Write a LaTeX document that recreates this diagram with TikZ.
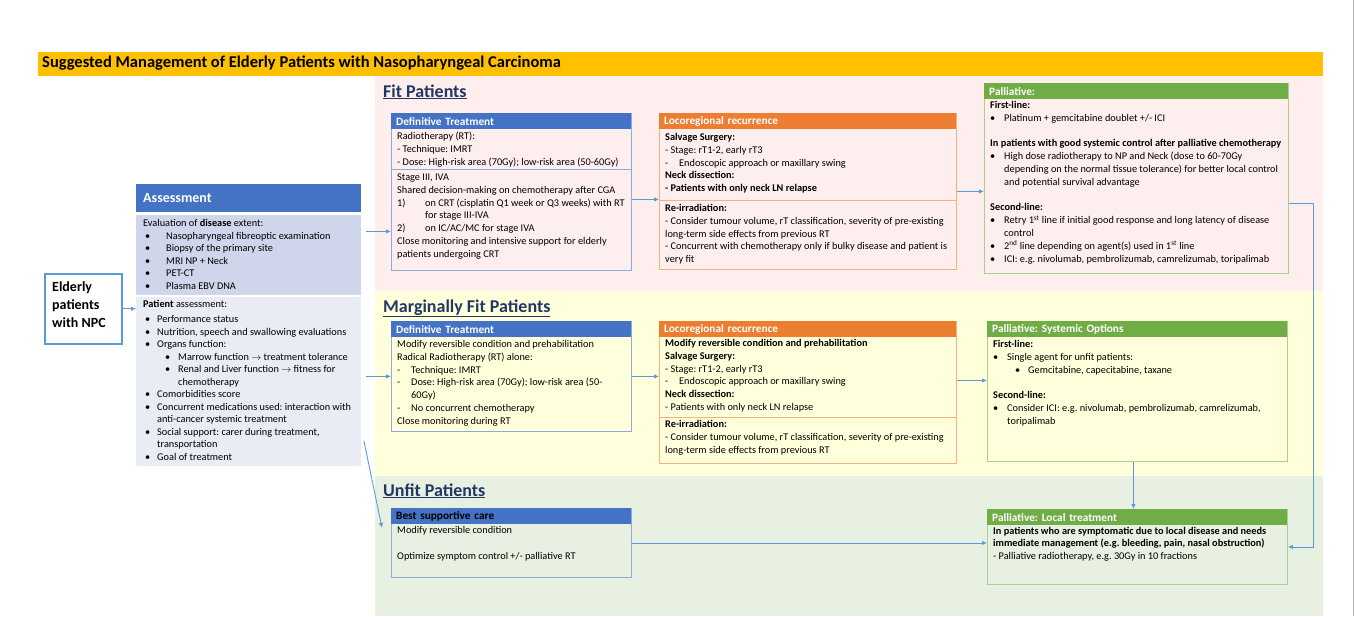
\documentclass[tikz,border=0pt]{standalone}
\usepackage{fontspec}
\setmainfont{Carlito}
\usetikzlibrary{positioning,arrows.meta,calc}
\frenchspacing

\definecolor{barorange}{HTML}{FFC000}
\definecolor{bandpink}{HTML}{FFEEEE}
\definecolor{bandyellow}{HTML}{FFFFDB}
\definecolor{bandgreen}{HTML}{E8F0E1}
\definecolor{hdblue}{HTML}{4472C4}
\definecolor{lnblue}{HTML}{8FAADC}
\definecolor{hdorange}{HTML}{ED7D31}
\definecolor{lnorange}{HTML}{F4B183}
\definecolor{hdgreen}{HTML}{70AD47}
\definecolor{lngreen}{HTML}{A9D18E}
\definecolor{evalfill}{HTML}{CFD5EA}
\definecolor{ptfill}{HTML}{E9EBF5}
\definecolor{arrowblue}{HTML}{5B9BD5}
\definecolor{navy}{HTML}{203864}

\newcommand{\bodyfont}{\fontsize{10.3}{12.8}\selectfont}
\newcommand{\assessfont}{\fontsize{10.3}{12.5}\selectfont}
\newcommand{\headfont}{\fontsize{11.3}{13}\selectfont\bfseries}
\newcommand{\sectfont}{\fontsize{18}{21}\selectfont\bfseries}
\newcommand{\titlefont}{\fontsize{16.5}{19}\selectfont\bfseries}
\newcommand{\lines}[1]{\begin{minipage}[t]{330pt}\raggedright#1\end{minipage}}
\newcommand{\mk}[3]{\hspace*{#1}\makebox[#2][l]{#3}}

\begin{document}
\begin{tikzpicture}[x=1pt, y=-1pt,
  frame/.style={draw, rectangle, anchor=north west, inner sep=0, line width=0.9pt},
  head/.style={anchor=north west, inner xsep=5pt, inner ysep=0, minimum height=16pt, align=left, font=\headfont, text=white},
  txt/.style={anchor=base west, inner sep=0, font=\bodyfont},
  sect/.style={anchor=base west, inner sep=0, font=\sectfont, text=navy},
  link/.style={draw=arrowblue, line width=0.9pt, -{Latex[length=5pt,width=4.5pt]}}]
\useasboundingbox (0,0) rectangle (1356,616);
\fill[white] (0,0) rectangle (1356,616);
\draw[gray!60] (1353,0) -- (1353,616);

% title bar and bands
\fill[barorange] (38,52) rectangle (1323,76);
\node[anchor=base west, inner sep=0, font=\titlefont] (title) at (42,67.5) {Suggested Management of Elderly Patients with Nasopharyngeal Carcinoma};
\fill[bandpink] (375,76) rectangle (1323,291);
\fill[bandyellow] (375,291) rectangle (1323,476);
\fill[bandgreen] (375,476) rectangle (1323,616);

\node[sect] (fittitle) at (383,97) {\underline{Fit Patients}};
\node[sect] (margtitle) at (383,312) {\underline{Marginally Fit Patients}};
\node[sect] (unfittitle) at (383,496) {\underline{Unfit Patients}};

% elderly patients
\node[frame, draw=arrowblue, line width=1.5pt, fill=white, minimum width=77pt, minimum height=70pt] (elderly) at (44,273) {};
\node[txt, font=\fontsize{14}{18}\selectfont\bfseries] (elderlytxt) at (52,291.5) {\lines{Elderly\\ patients\\ with NPC}};

% assessment
\node[head, fill=hdblue, text width=211pt, minimum height=28pt, inner xsep=7pt, font=\fontsize{14}{16}\selectfont\bfseries] (assesshd) at (136,184) {Assessment};
\node[frame, draw=none, fill=evalfill, minimum width=225pt, minimum height=80pt] (evalbox) at (136,215) {};
\node[frame, draw=none, fill=ptfill, minimum width=225pt, minimum height=169pt] (ptbox) at (136,297) {};
\node[txt, font=\assessfont] (evaltxt) at (143,226.5) {\lines{Evaluation of \textbf{disease} extent:\\
 \mk{2pt}{21pt}{\textbullet}Nasopharyngeal fibreoptic examination\\
 \mk{2pt}{21pt}{\textbullet}Biopsy of the primary site\\
 \mk{2pt}{21pt}{\textbullet}MRI NP + Neck\\
 \mk{2pt}{21pt}{\textbullet}PET-CT\\
 \mk{2pt}{21pt}{\textbullet}Plasma EBV DNA}};
\node[txt, font=\assessfont] (pttxt) at (143,307.5) {\lines{\textbf{Patient} assessment:\\[2.5pt]
 \mk{2pt}{12pt}{\textbullet}Performance status\\
 \mk{2pt}{12pt}{\textbullet}Nutrition, speech and swallowing evaluations\\
 \mk{2pt}{12pt}{\textbullet}Organs function:\\
 \mk{22pt}{13pt}{\textbullet}Marrow function $\rightarrow$ treatment tolerance\\
 \mk{22pt}{13pt}{\textbullet}Renal and Liver function $\rightarrow$ fitness for\\
 \hspace*{35pt}chemotherapy\\
 \mk{2pt}{12pt}{\textbullet}Comorbidities score\\
 \mk{2pt}{12pt}{\textbullet}Concurrent medications used: interaction with\\
 \hspace*{14pt}anti-cancer systemic treatment\\
 \mk{2pt}{12pt}{\textbullet}Social support: carer during treatment,\\
 \hspace*{14pt}transportation\\
 \mk{2pt}{12pt}{\textbullet}Goal of treatment}};

% fit patients
\node[frame, draw=lnblue, minimum width=240pt, minimum height=157pt] (fitdef) at (391,113) {};
\node[head, fill=hdblue, text width=230pt] (fitdefhd) at (fitdef.north west) {Definitive Treatment};
\draw[lnblue, line width=0.9pt] (391,169) -- (631,169);
\node[txt] (fitdeftxt) at (397,139.5) {\lines{Radiotherapy (RT):\\
 - Technique: IMRT\\
 - Dose: High-risk area (70Gy); low-risk area (50-60Gy)}};
\node[txt] (fitdeftxtb) at (397,180.5) {\lines{Stage III, IVA\\
 Shared decision-making on chemotherapy after CGA\\
 \mk{0pt}{28pt}{1)}on CRT (cisplatin Q1 week or Q3 weeks) with RT\\
 \hspace*{28pt}for stage III-IVA\\
 \mk{0pt}{28pt}{2)}on IC/AC/MC for stage IVA\\
 Close monitoring and intensive support for elderly\\
 patients undergoing CRT}};

\node[frame, draw=lnorange, minimum width=297pt, minimum height=156pt] (fitrec) at (659,113) {};
\node[head, fill=hdorange, text width=287pt] (fitrechd) at (fitrec.north west) {Locoregional recurrence};
\draw[lnorange, line width=0.9pt] (659,200) -- (956,200);
\node[txt] (fitrectxt) at (665,140.5) {\lines{\textbf{Salvage Surgery:}\\
 - Stage: rT1-2, early rT3\\
 \mk{0pt}{14pt}{-}Endoscopic approach or maxillary swing\\
 \textbf{Neck dissection:}\\
 \textbf{- Patients with only neck LN relapse}}};
\node[txt] (fitrectxtb) at (665,211.5) {\lines{\textbf{Re-irradiation:}\\
 - Consider tumour volume, rT classification, severity of pre-existing\\
 long-term side effects from previous RT\\
 - Concurrent with chemotherapy only if bulky disease and patient is\\
 very fit}};

\node[frame, draw=lngreen, minimum width=304pt, minimum height=190pt] (fitpal) at (984,83) {};
\node[head, fill=hdgreen, text width=294pt] (fitpalhd) at (fitpal.north west) {Palliative:};
\node[txt] (fitpaltxt) at (990,108.5) {\lines{\textbf{First-line:}\\
 \mk{0pt}{14pt}{\textbullet}Platinum + gemcitabine doublet +/- ICI\\[12.8pt]
 \textbf{In patients with good systemic control after palliative chemotherapy}\\
 \mk{0pt}{14pt}{\textbullet}High dose radiotherapy to NP and Neck (dose to 60-70Gy\\
 \hspace*{14pt}depending on the normal tissue tolerance) for better local control\\
 \hspace*{14pt}and potential survival advantage\\[12.8pt]
 \textbf{Second-line:}\\
 \mk{0pt}{14pt}{\textbullet}Retry 1\textsuperscript{st} line if initial good response and long latency of disease\\
 \hspace*{14pt}control\\
 \mk{0pt}{14pt}{\textbullet}2\textsuperscript{nd} line depending on agent(s) used in 1\textsuperscript{st} line\\
 \mk{0pt}{14pt}{\textbullet}ICI: e.g. nivolumab, pembrolizumab, camrelizumab, toripalimab}};

% marginally fit patients
\node[frame, draw=lnblue, minimum width=240pt, minimum height=110pt] (margdef) at (391,321) {};
\node[head, fill=hdblue, text width=230pt] (margdefhd) at (margdef.north west) {Definitive Treatment};
\node[txt] (margdeftxt) at (397,347.5) {\lines{Modify reversible condition and prehabilitation\\
 Radical Radiotherapy (RT) alone:\\
 \mk{0pt}{14pt}{-}Technique: IMRT\\
 \mk{0pt}{14pt}{-}Dose: High-risk area (70Gy); low-risk area (50-\\
 \hspace*{14pt}60Gy)\\
 \mk{0pt}{14pt}{-}No concurrent chemotherapy\\
 Close monitoring during RT}};

\node[frame, draw=lnorange, minimum width=297pt, minimum height=142pt] (margrec) at (659,321) {};
\node[head, fill=hdorange, text width=287pt] (margrechd) at (margrec.north west) {Locoregional recurrence};
\draw[lnorange, line width=0.9pt] (659,417) -- (956,417);
\node[txt] (margrectxt) at (665,346.5) {\lines{\textbf{Modify reversible condition and prehabilitation}\\
 \textbf{Salvage Surgery:}\\
 - Stage: rT1-2, early rT3\\
 \mk{0pt}{14pt}{-}Endoscopic approach or maxillary swing\\
 \textbf{Neck dissection:}\\
 - Patients with only neck LN relapse}};
\node[txt] (margrectxtb) at (665,427.5) {\lines{\textbf{Re-irradiation:}\\
 - Consider tumour volume, rT classification, severity of pre-existing\\
 long-term side effects from previous RT}};

\node[frame, draw=lngreen, minimum width=300pt, minimum height=140pt] (margpal) at (987,321) {};
\node[head, fill=hdgreen, text width=290pt] (margpalhd) at (margpal.north west) {Palliative: Systemic Options};
\node[txt] (margpaltxt) at (993,347.5) {\lines{\textbf{First-line:}\\
 \mk{0pt}{14pt}{\textbullet}Single agent for unfit patients:\\
 \mk{22pt}{13pt}{\textbullet}Gemcitabine, capecitabine, taxane\\[12.8pt]
 \textbf{Second-line:}\\
 \mk{0pt}{14pt}{\textbullet}Consider ICI: e.g. nivolumab, pembrolizumab, camrelizumab,\\
 \hspace*{14pt}toripalimab}};

% unfit patients
\node[frame, draw=lnblue, minimum width=240pt, minimum height=69pt] (unfit) at (391,508) {};
\node[head, fill=hdblue, text width=230pt, text=black] (unfithd) at (unfit.north west) {Best supportive care};
\node[txt] (unfittxt) at (397,533.5) {\lines{Modify reversible condition\\[12.8pt]
 Optimize symptom control +/- palliative RT}};

\node[frame, draw=lngreen, minimum width=300pt, minimum height=75pt] (pallocal) at (987,509) {};
\node[head, fill=hdgreen, text width=290pt] (pallocalhd) at (pallocal.north west) {Palliative: Local treatment};
\node[txt] (pallocaltxt) at (993,534) {\lines{\textbf{In patients who are symptomatic due to local disease and needs}\\
 \textbf{immediate management (e.g. bleeding, pain, nasal obstruction)}\\
 - Palliative radiotherapy, e.g. 30Gy in 10 fractions}};

% connectors
\draw[link] (elderly.east) -- (elderly.east -| ptbox.west);
\coordinate (a1) at ([xshift=4pt,yshift=24pt]evalbox.east);
\draw[link] (a1) -- (a1 -| fitdef.west);
\coordinate (a2) at ([xshift=4pt]ptbox.east);
\draw[link] (a2 |- margdef.west) -- (margdef.west);
\coordinate (a3) at ([xshift=2pt,yshift=26pt]ptbox.south east);
\coordinate (a3e) at ([xshift=-9pt,yshift=15pt]unfit.west);
\draw[link] (a3) -- (a3e);
\coordinate (b1) at ([yshift=-7.5pt]fitdef.east);
\draw[link] (b1) -- (b1 -| fitrec.west);
\draw[link] (fitrec.east) -- (fitrec.east -| fitpal.west);
\coordinate (b3) at ([yshift=-25pt]fitpal.east);
\draw[link] (b3) -- ++(25,0) |- (pallocal.east);
\draw[link] (margdef.east) -- (margdef.east -| margrec.west);
\coordinate (c2) at ([yshift=12pt]margrec.east);
\draw[link] (c2) -- (c2 -| margpal.west);
\draw[link] ([xshift=-4pt]margpal.south) -- ([xshift=-4pt]pallocal.north);
\draw[link] (unfit.east) -- (unfit.east -| pallocal.west);
\end{tikzpicture}
\end{document}
